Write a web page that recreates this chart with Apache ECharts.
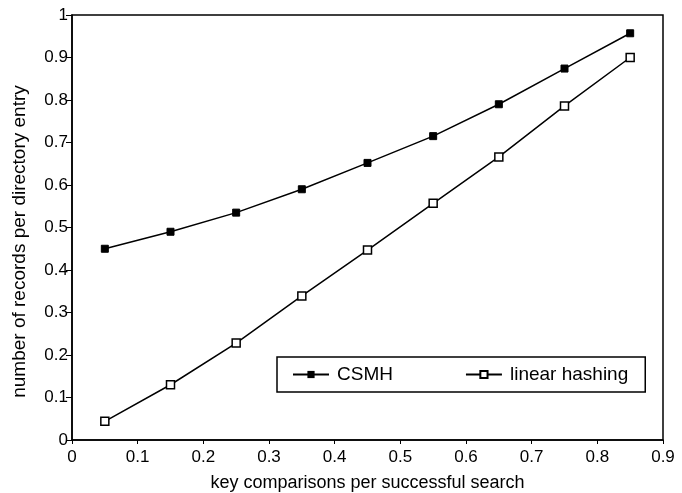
<!DOCTYPE html>
<html><head><meta charset="utf-8">
<script src="https://cdn.jsdelivr.net/npm/echarts@6/dist/echarts.min.js"></script>
<style>html,body{margin:0;padding:0;background:#fff}#c{width:682px;height:493px}</style>
</head><body><div id="c"></div>
<script>
var xValues = [0.05, 0.15, 0.25, 0.35, 0.45, 0.55, 0.65, 0.75, 0.85];
var csmh = [0.45, 0.49, 0.535, 0.59, 0.652, 0.715, 0.79, 0.874, 0.957];
var linearHashing = [0.044, 0.13, 0.228, 0.339, 0.447, 0.557, 0.666, 0.786, 0.9];
var seriesNames = ['CSMH', 'linear hashing'];
var xTitle = 'key comparisons per successful search';
var yTitle = 'number of records per directory entry';

function pairs(ys){ return xValues.map(function(x,i){ return [x, ys[i]]; }); }
var font = 'Liberation Sans, Arial, sans-serif';
var chart = echarts.init(document.getElementById('c'));
chart.setOption({
  animation:false,
  backgroundColor:'#fff',
  grid:{left:72, right:19, top:15, bottom:53, show:true, borderColor:'#000', borderWidth:1.5,
    containLabel:false, outerBoundsMode:'none'},
  xAxis:{type:'value', min:0, max:0.9, interval:0.1,
    name:xTitle, nameLocation:'middle', nameGap:34,
    nameTextStyle:{color:'#000', fontSize:18, fontFamily:font},
    axisLine:{lineStyle:{color:'#000', width:1.5}},
    axisTick:{show:true, inside:false, length:4, lineStyle:{color:'#000'}},
    axisLabel:{color:'#000', fontSize:17, fontFamily:font, margin:9,
      formatter:function(v){ return String(Math.round(v*10)/10); }},
    splitLine:{show:false}},
  yAxis:{type:'value', min:0, max:1, interval:0.1,
    name:yTitle, nameLocation:'middle', nameGap:43,
    nameTextStyle:{color:'#000', fontSize:19, fontFamily:font, padding:[0,0,0,-28]},
    axisLine:{lineStyle:{color:'#000', width:1.5}},
    axisTick:{show:true, inside:false, length:6, lineStyle:{color:'#000'}},
    axisLabel:{color:'#000', fontSize:17, fontFamily:font, margin:4,
      formatter:function(v){ return String(Math.round(v*10)/10); }},
    splitLine:{show:false}},
  legend:{left:277, top:357, padding:[8,17,8,15],
    borderColor:'#000', borderWidth:1.5, backgroundColor:'#fff',
    itemGap:72, itemWidth:36, itemHeight:9,
    textStyle:{color:'#000', fontSize:19, fontFamily:font, padding:[0,0,0,3]},
    data:seriesNames},
  series:[
    {name:seriesNames[0], type:'line', data:pairs(csmh), symbol:'rect', symbolSize:7,
      lineStyle:{color:'#000', width:1.5}, itemStyle:{color:'#000', borderColor:'#000'}},
    {name:seriesNames[1], type:'line', data:pairs(linearHashing), symbol:'rect', symbolSize:8,
      lineStyle:{color:'#000', width:1.5}, itemStyle:{color:'#fff', borderColor:'#000', borderWidth:1.5}}
  ]
});
</script></body></html>
